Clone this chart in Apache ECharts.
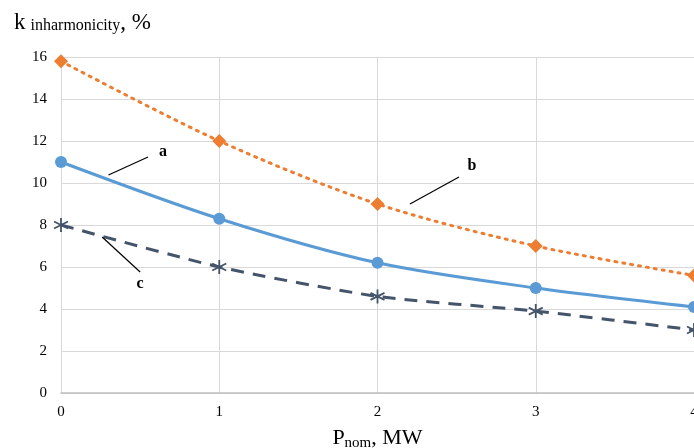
<!DOCTYPE html>
<html><head><meta charset="utf-8">
<script src="https://cdn.jsdelivr.net/npm/echarts@6/dist/echarts.min.js"></script>
<style>html,body{margin:0;padding:0;background:#fff}#c{width:694px;height:448px}</style>
</head><body><div id="c"></div>
<script>
const xValues = [0, 1, 2, 3, 4];
const seriesA = [11.0, 8.3, 6.2, 5.0, 4.1];
const seriesB = [15.8, 12.0, 9.0, 7.0, 5.6];
const seriesC = [8.0, 6.0, 4.6, 3.9, 3.0];
const yTicks = [0, 2, 4, 6, 8, 10, 12, 14, 16];
const xTicks = [0, 1, 2, 3, 4];
// annotation leader lines in data coordinates
const annotations = [
  {label: 'a', from: [0.30, 10.38], to: [0.55, 11.24], text: [0.645, 11.5]},
  {label: 'b', from: [2.205, 9.0], to: [2.515, 10.29], text: [2.597, 10.8]},
  {label: 'c', from: [0.26, 7.43], to: [0.50, 5.76], text: [0.50, 5.2]}
];

const FONT = '"Liberation Serif", "Times New Roman", serif';
const chart = echarts.init(document.getElementById('c'), null, {renderer: 'canvas'});
const pair = arr => xValues.map((x, i) => [x, arr[i]]);
const asterisk = 'path://M0,-10L0,10M-8.66,-5L8.66,5M-8.66,5L8.66,-5';

chart.setOption({
  animation: false,
  backgroundColor: '#fff',
  title: {
    left: 9, top: 6,
    text: '{k|k} {s|inharmonicity}{k|, %}',
    textStyle: {
      fontWeight: 'normal',
      rich: {
        k: {fontFamily: FONT, fontSize: 23, fontWeight: 'normal', color: '#000'},
        s: {fontFamily: FONT, fontSize: 16, fontWeight: 'normal', color: '#000', padding: [6, 0, 0, 0]}
      }
    }
  },
  grid: {left: 61, right: 0, top: 57, bottom: 55, containLabel: false, outerBoundsMode: 'none'},
  xAxis: {
    type: 'value', min: 0, max: 4, interval: 1,
    name: '{p|P}{s|nom}{p|, MW}',
    nameLocation: 'middle', nameGap: 33,
    nameTextStyle: {
      rich: {
        p: {fontFamily: FONT, fontSize: 22, color: '#000'},
        s: {fontFamily: FONT, fontSize: 15, color: '#000', padding: [10, 0, 0, 0]}
      }
    },
    axisLine: {show: true, lineStyle: {color: '#bfbfbf', width: 1.5}},
    axisTick: {show: false},
    axisLabel: {fontFamily: FONT, fontSize: 15, color: '#000', margin: 12,
      formatter: v => xTicks.includes(v) ? String(v) : ''},
    splitLine: {show: true, lineStyle: {color: '#d9d9d9', width: 1}}
  },
  yAxis: {
    type: 'value', min: 0, max: 16, interval: 2,
    axisLine: {show: false}, axisTick: {show: false},
    axisLabel: {fontFamily: FONT, fontSize: 15, color: '#000', margin: 14,
      formatter: v => yTicks.includes(v) ? String(v) : ''},
    splitLine: {show: true, lineStyle: {color: '#d9d9d9', width: 1}}
  },
  series: [
    {name: 'b', type: 'line', data: pair(seriesB), smooth: 0.3,
      symbol: 'diamond', symbolSize: 14,
      lineStyle: {color: '#ED7D31', width: 3, type: [2, 6], cap: 'round'},
      itemStyle: {color: '#ED7D31'}, z: 3},
    {name: 'a', type: 'line', data: pair(seriesA), smooth: 0.3,
      symbol: 'circle', symbolSize: 12,
      lineStyle: {color: '#5B9BD5', width: 3},
      itemStyle: {color: '#5B9BD5'}, z: 4},
    {name: 'c', type: 'line', data: pair(seriesC), smooth: 0.2,
      symbol: asterisk, symbolSize: 14,
      lineStyle: {color: '#44546A', width: 3, type: [13, 9]},
      itemStyle: {color: '#44546A', borderColor: '#44546A', borderWidth: 1.8}, z: 5}
  ]
});

function drawAnnotations() {
  const els = [];
  annotations.forEach(a => {
    const p1 = chart.convertToPixel({gridIndex: 0}, a.from);
    const p2 = chart.convertToPixel({gridIndex: 0}, a.to);
    const pt = chart.convertToPixel({gridIndex: 0}, a.text);
    els.push({type: 'line', shape: {x1: p1[0], y1: p1[1], x2: p2[0], y2: p2[1]},
      style: {stroke: '#000', lineWidth: 1.2}, z: 10});
    els.push({type: 'text', x: pt[0], y: pt[1],
      style: {text: a.label, font: 'bold 16px ' + FONT, fill: '#000', align: 'center', verticalAlign: 'middle'}, z: 10});
  });
  chart.setOption({graphic: els});
}
drawAnnotations();
</script></body></html>
